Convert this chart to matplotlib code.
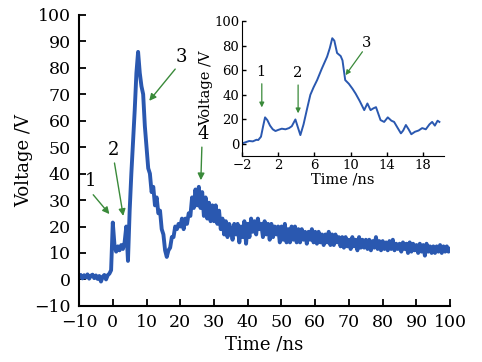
import matplotlib
matplotlib.use("Agg")
import matplotlib.pyplot as plt
import numpy as np

plt.rcParams['font.family'] = ['DejaVu Serif']

# main trace: one sample every 0.5 ns from -10 to 100 ns
t_main = np.arange(-10, 100.01, 0.5)
v_main = [
    0.8, 1.7, 0.4, 1.6, 0.7, 1.9, 0.3, 1.4, 1.8, 0.5,
    1.5, 0.2, 1.3, -0.8, 1.0, 1.7, 0.0, 1.6, 2.2, 3.5,
    21.5, 13.0, 10.5, 12.5, 11.0, 13.0, 11.5, 14.0, 20.0, 7.0,
    26.0, 40.0, 52.0, 64.0, 78.0, 86.0, 78.0, 73.0, 70.0, 58.0,
    50.0, 42.0, 40.0, 33.0, 35.0, 28.0, 31.0, 25.0, 26.0, 19.0,
    17.0, 11.0, 8.5, 11.0, 12.0, 16.0, 16.0, 20.0, 19.0, 21.0,
    20.0, 23.0, 19.0, 23.0, 21.0, 25.0, 24.0, 31.0, 27.0, 34.0,
    28.0, 35.0, 27.0, 33.0, 24.0, 31.0, 23.0, 29.0, 22.0, 28.0,
    22.0, 28.0, 21.0, 26.0, 19.0, 23.0, 17.0, 22.0, 16.0, 21.0,
    19.0, 15.0, 21.0, 17.0, 21.0, 14.0, 20.0, 16.0, 22.0, 13.5,
    21.0, 16.0, 23.0, 18.0, 22.0, 17.0, 23.0, 19.0, 21.0, 16.0,
    22.0, 17.0, 21.0, 15.0, 21.0, 16.0, 20.0, 17.0, 20.0, 14.0,
    20.0, 15.0, 21.0, 14.0, 19.0, 14.0, 20.0, 15.0, 20.0, 14.0,
    19.0, 14.0, 19.0, 15.0, 18.0, 13.5, 18.0, 15.0, 19.0, 14.0,
    18.0, 13.5, 18.0, 14.0, 17.0, 13.0, 17.0, 14.0, 18.0, 13.0,
    17.0, 13.0, 17.0, 14.0, 16.0, 12.5, 16.0, 12.0, 16.0, 12.5,
    15.0, 11.5, 16.0, 12.5, 15.0, 11.0, 16.0, 12.0, 15.0, 12.0,
    15.0, 11.5, 15.0, 11.0, 14.5, 12.0, 16.0, 11.5, 14.5, 11.0,
    14.5, 11.5, 14.0, 11.0, 14.5, 11.5, 15.0, 11.0, 13.5, 11.5,
    13.5, 10.5, 14.0, 11.5, 13.5, 10.0, 14.0, 10.5, 13.5, 11.0,
    13.0, 10.0, 13.5, 10.5, 13.0, 9.0, 13.5, 10.5, 12.5, 10.0,
    12.5, 10.0, 12.5, 10.5, 13.0, 10.0, 12.5, 10.5, 12.5, 10.5, 11.5,
]

# inset: smoothed zoom of the first 20 ns
t_ins = [-2.0, -1.6, -1.2, -0.8, -0.4, -0.2, 0.1, 0.35, 0.55, 0.8, 1.1, 1.4, 1.7,
         2.0, 2.4, 2.8, 3.2, 3.5, 3.9, 4.2, 4.45, 4.8, 5.2, 5.55, 5.9, 6.3,
         6.8, 7.4, 7.7, 7.97, 8.2, 8.5, 8.9, 9.1, 9.4, 9.8, 10.2, 10.55,
         11.0, 11.5, 11.85, 12.2, 12.5, 12.8, 13.3, 13.7, 14.1, 14.5, 14.8,
         15.2, 15.55, 15.8, 16.1, 16.4, 16.7, 17.1, 17.5, 17.9, 18.3, 18.7,
         19.0, 19.3, 19.6, 19.8]
v_ins = [0.5, 1.5, 2.5, 2.2, 3.5, 3.3, 6.0, 15.0, 21.7, 19.5, 15.0, 12.0, 10.6,
         11.5, 12.5, 12.0, 13.0, 14.5, 20.0, 13.0, 7.3, 16.0, 29.0, 40.0, 46.0, 52.0,
         61.0, 71.0, 78.0, 86.0, 84.0, 74.0, 71.5, 68.0, 52.0, 49.0, 45.0, 41.0,
         35.0, 27.6, 33.0, 27.6, 29.0, 30.0, 19.5, 18.0, 21.7, 19.0, 18.0,
         13.0, 8.7, 11.0, 15.5, 12.0, 8.0, 10.0, 11.0, 13.0, 12.0, 16.0,
         18.0, 15.0, 19.0, 18.0]

# label, text position, arrow tail, arrow tip
main_notes = [("1", (-6.5, 37.3), (-5.8, 32.0), (-1.0, 24.7)),
              ("2", (0.2, 49.0), (0.5, 44.0), (3.1, 24.0)),
              ("3", (20.4, 84.0), (18.5, 79.5), (10.8, 67.5)),
              ("4", (26.9, 55.0), (26.4, 50.0), (26.1, 37.5))]
ins_notes = [("1", (0.1, 58.8), (0.19, 49.0), (0.19, 29.8)),
             ("2", (4.2, 57.5), (4.2, 48.0), (4.2, 25.0)),
             ("3", (11.8, 81.9), (11.3, 75.0), (9.44, 56.0))]

blue = '#2a58b0'
green = '#3a8a3a'

fig = plt.figure(figsize=(4.82, 3.62), dpi=100)
ax = fig.add_axes([0.164, 0.155, 0.770, 0.804])
ax.plot(t_main, v_main, color=blue, lw=2.8)
ax.set_xlim(-10, 100)
ax.set_ylim(-10, 100)
ax.set_xticks(np.arange(-10, 101, 10))
ax.set_yticks(np.arange(-10, 101, 10))
for s in ['top', 'right']:
    ax.spines[s].set_visible(False)
for s in ['left', 'bottom']:
    ax.spines[s].set_linewidth(1.5)
ax.tick_params(direction='in', length=5, width=1.3, labelsize=12.5, pad=6)
ax.set_xlabel('Time /ns', fontsize=13, labelpad=3)
ax.set_ylabel('Voltage /V', fontsize=13, labelpad=1)
for lab, tp, tail, tip in main_notes:
    ax.text(tp[0], tp[1], lab, fontsize=13, ha='center', va='center')
    ax.annotate('', xy=tip, xytext=tail,
                arrowprops=dict(arrowstyle='-|>', color=green, lw=1.0,
                                mutation_scale=10, shrinkA=0, shrinkB=0))

ins = fig.add_axes([0.502, 0.568, 0.419, 0.374])
ins.plot(t_ins, v_ins, color=blue, lw=1.4)
ins.set_xlim(-2, 20.3)
ins.set_ylim(-10, 100)
ins.set_xticks([-2, 2, 6, 10, 14, 18])
ins.set_yticks([0, 20, 40, 60, 80, 100])
for s in ['top', 'right']:
    ins.spines[s].set_visible(False)
ins.tick_params(direction='in', length=3, width=1.0, labelsize=9.5, pad=2)
ins.set_xlabel('Time /ns', fontsize=10.5, labelpad=0)
ins.set_ylabel('Voltage /V', fontsize=10.5, labelpad=1)
for lab, tp, tail, tip in ins_notes:
    ins.text(tp[0], tp[1], lab, fontsize=10.5, ha='center', va='center')
    ins.annotate('', xy=tip, xytext=tail,
                 arrowprops=dict(arrowstyle='-|>', color=green, lw=0.9,
                                 mutation_scale=7, shrinkA=0, shrinkB=0))

fig.savefig('out.png', dpi=100)
